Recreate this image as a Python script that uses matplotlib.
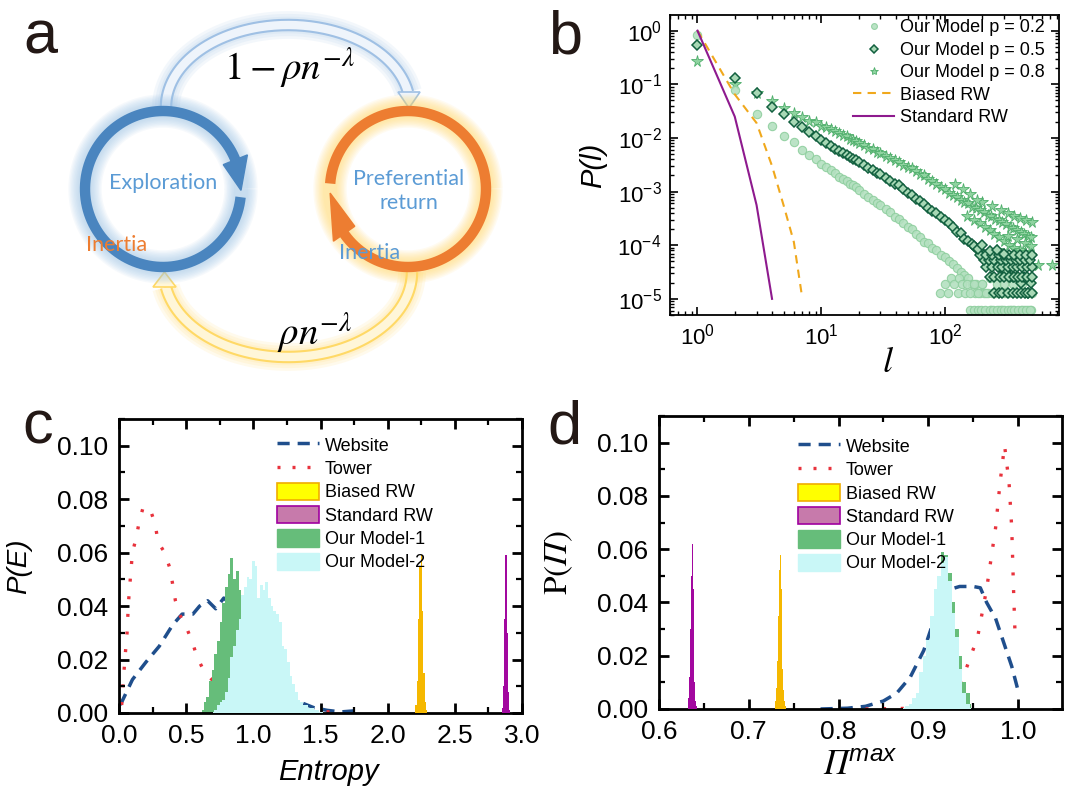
import numpy as np
import matplotlib
matplotlib.use('Agg')
import matplotlib.pyplot as plt
from matplotlib.patches import Polygon, Patch
from matplotlib.lines import Line2D
from matplotlib.ticker import MultipleLocator, FormatStrFormatter

plt.rcParams['font.family'] = ['Liberation Sans', 'DejaVu Sans']
plt.rcParams['mathtext.fontset'] = 'stix'
# custom math set, only used for the Pi labels of panel d (italic serif Pi)
plt.rcParams['mathtext.rm'] = 'STIXGeneral:italic'
plt.rcParams['mathtext.it'] = 'STIXGeneral:italic'
plt.rcParams['mathtext.bf'] = 'STIXGeneral'
plt.rcParams['mathtext.sf'] = 'Liberation Sans:italic'

# ---------------- panel b: step length distribution ----------------
l_grid = [1, 2, 3, 4, 5, 6, 7, 8, 9, 10, 11, 12, 13, 14, 15, 16, 17, 18, 19, 20,
          22, 24, 26, 28, 30, 33, 36, 39, 42, 46, 50, 54, 58, 63, 68, 73, 79, 85,
          92, 99, 107, 115, 124, 133, 143, 154, 166, 178, 191, 205, 220, 236, 253,
          271, 290, 310, 332, 355, 380, 406, 434, 464, 496]
p02 = [0.84, 0.08, 0.028, 0.017, 0.011, 0.0085, 0.0059, 0.0049, 0.0041, 0.0033,
       0.0029, 0.0025, 0.0022, 0.0019, 0.0017, 0.0016, 0.0014, 0.0013, 0.0012, 0.00108,
       0.00092, 0.0008, 0.0007, 0.00061, 0.00056, 0.00047, 0.00041, 0.00034, 0.00031,
       0.00026, 0.00022, 0.0002, 0.000165, 0.000145, 0.000115, 0.000108, 8.8e-05,
       8.2e-05, 6.6e-05, 6e-05, 5e-05, 4.4e-05, 3.8e-05, 3.1e-05, 2.8e-05, 2.5e-05,
       1.9e-05, 1.9e-05, 1.26e-05, 1.26e-05, 1.26e-05, 6.3e-06, 1.26e-05, 6.3e-06,
       6.3e-06, 1.26e-05, 6.3e-06, 6.3e-06, 1.26e-05, 6.3e-06, 6.3e-06, 6.3e-06, 6.3e-06]
p05 = [0.54, 0.133, 0.068, 0.038, 0.028, 0.02, 0.016, 0.013, 0.0107, 0.0091,
       0.008, 0.0071, 0.0063, 0.0057, 0.0052, 0.0048, 0.0045, 0.0041, 0.0038, 0.0035,
       0.0031, 0.0028, 0.0025, 0.0022, 0.0021, 0.0018, 0.0016, 0.0014, 0.0013, 0.0011,
       0.00095, 0.00086, 0.00074, 0.00066, 0.00058, 0.0005, 0.00044, 0.0004, 0.00033,
       0.00029, 0.00026, 0.00022, 0.00018, 0.00017, 0.00013, 0.00012, 0.000105,
       8.8e-05, 7.8e-05, 6.6e-05, 5.8e-05, 5.2e-05, 4.5e-05, 3.9e-05, 3.9e-05,
       3.3e-05, 2.6e-05, 2.6e-05, 2.6e-05, 2e-05, 2.6e-05, 1.3e-05, 2e-05]
p08 = [0.27, 0.1, 0.068, 0.049, 0.036, 0.029, 0.025, 0.021, 0.02, 0.017,
       0.016, 0.0145, 0.0135, 0.0125, 0.0115, 0.011, 0.0095, 0.0092, 0.0086, 0.0082,
       0.0073, 0.0066, 0.0062, 0.0055, 0.0052, 0.0047, 0.0042, 0.0039, 0.0036, 0.0031,
       0.0029, 0.0027, 0.0024, 0.0021, 0.002, 0.0017, 0.0016, 0.0014, 0.0012, 0.0011,
       0.00095, 0.00088, 0.0008, 0.0007, 0.00065, 0.0006, 0.00052, 0.0005, 0.00045,
       0.00042, 0.00036, 0.00035, 0.00031, 0.0003, 0.00027, 0.00025, 0.00022, 0.00021,
       0.00019, 0.00018, 0.00016, 0.00015, 0.00014]

# noisy tails (few counts per bin)
tail02_l = [90, 100, 105, 112, 118, 126, 130, 138, 145, 150, 160, 170, 175, 185, 195,
            200, 210, 230, 245, 260, 280, 300, 320, 340, 360, 390, 420, 450, 480,
            160, 185, 215, 240, 265, 300, 330, 370, 400, 440, 480,
            170, 200, 230, 260, 300, 350, 420, 500]
tail02_p = [1.26e-05, 1.9e-05, 1.26e-05, 2.5e-05, 1.9e-05, 1.26e-05, 2.5e-05, 1.9e-05,
            1.26e-05, 1.9e-05, 6.3e-06, 6.3e-06, 1.26e-05, 6.3e-06, 6.3e-06, 1.9e-05,
            6.3e-06, 6.3e-06, 6.3e-06, 6.3e-06, 6.3e-06, 6.3e-06, 6.3e-06, 6.3e-06,
            6.3e-06, 6.3e-06, 6.3e-06, 6.3e-06, 6.3e-06,
            1.26e-05, 1.26e-05, 1.26e-05, 1.26e-05, 1.26e-05, 1.26e-05, 1.26e-05,
            1.26e-05, 1.26e-05, 1.26e-05, 1.26e-05,
            1.9e-05, 1.9e-05, 2.5e-05, 1.9e-05, 1.9e-05, 1.9e-05, 1.9e-05, 1.26e-05]
tail05_l = [250, 270, 290, 320, 350, 380, 410, 440, 470, 500,
            230, 250, 275, 300, 330, 360, 390, 420, 460, 500,
            215, 240, 265, 290, 320, 350, 380, 420, 460, 500,
            205, 225, 250, 280, 310, 340, 370, 400, 440, 480,
            190, 215, 240, 270, 300, 330, 360, 400, 450, 500,
            170, 185, 200, 230, 260, 300]
tail05_p = [1.3e-05] * 10 + [2.6e-05] * 10 + [3.9e-05] * 10 + [5.2e-05] * 10 + \
           [6.5e-05] * 10 + [9.5e-05, 8.5e-05, 1e-04, 7.8e-05, 8e-05, 7e-05]
tail08_l = [150, 170, 190, 210, 230, 250, 270, 300, 330, 360, 400, 440, 480,
            200, 240, 280, 320, 360, 400, 450, 500,
            260, 300, 340, 380, 420, 460, 500,
            320, 380, 440, 490, 560, 730, 120, 140, 160, 180]
tail08_p = [0.00035, 0.0003, 0.00026, 0.00022, 0.00019, 0.00016, 0.00014, 0.00012,
            0.0001, 9e-05, 8e-05, 7.5e-05, 6.5e-05,
            0.00065, 0.00055, 0.00045, 0.0004, 0.00035, 0.00032, 0.0003, 0.00027,
            8e-05, 7e-05, 6e-05, 5.5e-05, 5e-05, 4.5e-05, 4.2e-05,
            0.00015, 0.00013, 0.00011, 9.5e-05, 4.2e-05, 4.2e-05,
            0.0014, 0.0011, 0.0009, 0.0007]

biased_l = [1, 2, 3, 4, 5, 6, 7]
biased_p = [1.0, 0.065, 0.019, 0.003, 0.00052, 0.000115, 1.07e-05]
standard_l = [1, 2, 3, 4]
standard_p = [1.0, 0.025, 0.00056, 1.0e-05]

# ---------------- panel c: entropy ----------------
web_E_x = [0.01, 0.1, 0.2, 0.3, 0.4, 0.47, 0.55, 0.6, 0.66, 0.72, 0.78, 0.85, 0.95,
           1.05, 1.15, 1.25, 1.35, 1.45, 1.55, 1.65, 1.75, 1.81]
web_E_y = [0.003, 0.0125, 0.019, 0.025, 0.033, 0.037, 0.037, 0.04, 0.042, 0.039,
           0.043, 0.04, 0.03, 0.02, 0.012, 0.006, 0.004, 0.002, 0.001, 0.0004,
           0.0008, 0.0008]
tow_E_x = [0.02, 0.03, 0.05, 0.06, 0.07, 0.09, 0.1, 0.13, 0.15, 0.18, 0.23, 0.27, 0.29,
           0.34, 0.38, 0.4, 0.42, 0.45, 0.51, 0.55, 0.58, 0.63, 0.7, 0.8, 1.0, 1.2,
           1.4, 1.5, 1.6, 1.65]
tow_E_y = [0.003, 0.011, 0.024, 0.03, 0.041, 0.054, 0.06, 0.066, 0.0715, 0.077, 0.0765,
           0.0706, 0.064, 0.06, 0.054, 0.048, 0.042, 0.037, 0.031, 0.026, 0.021, 0.016,
           0.012, 0.008, 0.004, 0.002, 0.001, 0.0005, 0.0004, 0.0002]
m1_E_x = [0.62, 0.64, 0.66, 0.68, 0.7, 0.72, 0.74, 0.76, 0.78, 0.8, 0.82, 0.84, 0.86,
          0.88, 0.9, 0.92, 0.94, 0.96, 0.98, 1.0, 1.02]
m1_E_y = [0.001, 0.004, 0.006, 0.012, 0.016, 0.022, 0.027, 0.034, 0.041, 0.047, 0.052,
          0.058, 0.05, 0.053, 0.046, 0.037, 0.03, 0.022, 0.012, 0.006, 0.002]
m2_E_x = [0.7, 0.72, 0.74, 0.76, 0.78, 0.8, 0.82, 0.84, 0.86, 0.88, 0.9, 0.92, 0.94,
          0.96, 0.98, 1.0, 1.02, 1.04, 1.06, 1.08, 1.1, 1.12, 1.14, 1.16, 1.18, 1.2,
          1.22, 1.24, 1.26, 1.28, 1.3, 1.32, 1.34, 1.36, 1.38, 1.4, 1.42, 1.44, 1.46,
          1.48, 1.5, 1.52]
m2_E_y = [0.0005, 0.001, 0.003, 0.004, 0.005, 0.008, 0.013, 0.021, 0.025, 0.031, 0.035,
          0.044, 0.047, 0.051, 0.05, 0.057, 0.055, 0.043, 0.048, 0.046, 0.049, 0.043,
          0.04, 0.038, 0.037, 0.034, 0.025, 0.024, 0.019, 0.014, 0.011, 0.008, 0.005,
          0.004, 0.003, 0.003, 0.002, 0.002, 0.001, 0.001, 0.0005, 0.0005]
brw_E_x = [2.2, 2.21, 2.22, 2.23, 2.24, 2.25, 2.26, 2.27, 2.28, 2.29]
brw_E_y = [0.001, 0.003, 0.012, 0.035, 0.055, 0.059, 0.038, 0.015, 0.004, 0.001]
srw_E_x = [2.85, 2.86, 2.87, 2.88, 2.89, 2.9, 2.91]
srw_E_y = [0.002, 0.01, 0.035, 0.059, 0.03, 0.008, 0.001]

# ---------------- panel d: predictability ----------------
web_P_x = [0.78, 0.81, 0.83, 0.85, 0.865, 0.88, 0.895, 0.905, 0.915, 0.925, 0.935,
           0.95, 0.958, 0.965, 0.975, 0.985, 0.993, 1.0]
web_P_y = [0.0, 0.0003, 0.001, 0.003, 0.006, 0.012, 0.022, 0.032, 0.04, 0.045, 0.046,
           0.046, 0.0455, 0.04, 0.034, 0.024, 0.016, 0.007]
tow_P_x = [0.83, 0.87, 0.9, 0.925, 0.94, 0.955, 0.965, 0.975, 0.98, 0.985, 0.99,
           0.993, 0.995, 0.997]
tow_P_y = [0.0, 0.0002, 0.0005, 0.003, 0.013, 0.027, 0.045, 0.068, 0.085, 0.099,
           0.085, 0.068, 0.045, 0.025]
m1_P_x = [0.88, 0.884, 0.888, 0.892, 0.896, 0.9, 0.904, 0.908, 0.912, 0.916, 0.92,
          0.924, 0.928, 0.932, 0.936, 0.94, 0.944, 0.948]
m1_P_y = [0.001, 0.003, 0.006, 0.012, 0.018, 0.025, 0.032, 0.04, 0.047, 0.059, 0.058,
          0.051, 0.04, 0.03, 0.02, 0.01, 0.006, 0.002]
m2_P_x = [0.872, 0.876, 0.88, 0.884, 0.888, 0.892, 0.896, 0.9, 0.904, 0.908, 0.912,
          0.916, 0.92, 0.924, 0.928, 0.932, 0.936, 0.94, 0.944, 0.948]
m2_P_y = [0.0005, 0.001, 0.002, 0.004, 0.006, 0.014, 0.02, 0.026, 0.035, 0.045, 0.05,
          0.055, 0.057, 0.048, 0.036, 0.027, 0.015, 0.006, 0.002, 0.0005]
brw_P_x = [0.729, 0.73, 0.731, 0.732, 0.733, 0.734, 0.735, 0.736, 0.737, 0.738, 0.739,
           0.74, 0.741, 0.742]
brw_P_y = [0.001, 0.003, 0.008, 0.018, 0.035, 0.052, 0.058, 0.045, 0.03, 0.015, 0.007,
           0.003, 0.001, 0.0005]
srw_P_x = [0.632, 0.633, 0.634, 0.635, 0.636, 0.637, 0.638, 0.639, 0.64, 0.641, 0.642]
srw_P_y = [0.001, 0.004, 0.012, 0.03, 0.05, 0.062, 0.045, 0.025, 0.01, 0.003, 0.001]

hist_labels = ['Website', 'Tower', 'Biased RW', 'Standard RW', 'Our Model-1', 'Our Model-2']
b_labels = ['Our Model p = 0.2', 'Our Model p = 0.5', 'Our Model p = 0.8',
            'Biased RW', 'Standard RW']

C_WEB = '#1f4e8c'
C_TOW = '#e8323c'
C_M1 = '#66bd7a'
C_M2 = '#c9f7f7'
C_BRW = '#f5b800'
C_SRW = '#a2089f'

W, H = 1080, 791


def px_box(left, top, right, bottom):
    return [left / W, 1 - bottom / H, (right - left) / W, (bottom - top) / H]


fig = plt.figure(figsize=(W / 100, H / 100), dpi=100)

# ================= panel a: diagram =================
ax_a = fig.add_axes(px_box(0, 0, 540, 395))
ax_a.set_xlim(0, 540)
ax_a.set_ylim(395, 0)
ax_a.axis('off')


def arc(cx, cy, r, t0, t1, n=240):
    t = np.radians(np.linspace(t0, t1, n))
    return cx + r * np.cos(t), cy - r * np.sin(t)


def arrow_head(cx, cy, r, t_base, t_tip, half):
    tb, tt = np.radians(t_base), np.radians(t_tip)
    pts = [(cx + (r - half) * np.cos(tb), cy - (r - half) * np.sin(tb)),
           (cx + (r + half) * np.cos(tb), cy - (r + half) * np.sin(tb)),
           (cx + r * np.cos(tt), cy - r * np.sin(tt))]
    return pts


def glow_ring(cx, cy, r, t0, t1, t_tip, color, glow):
    x, y = arc(cx, cy, r, t0, t1)
    xg, yg = arc(cx, cy, r, 0, 360)
    # soft halo: many thin transparent layers
    for lw in np.linspace(24, 10, 8):
        ax_a.plot(xg, yg, color=glow, lw=lw, alpha=0.09, solid_capstyle='butt', zorder=2)
    ax_a.plot(x, y, color=color, lw=7.5, solid_capstyle='butt', zorder=3)
    head = arrow_head(cx, cy, r, t1, t_tip, 13)
    ax_a.add_patch(Polygon(head, closed=True, fc=color, ec=color, lw=1, zorder=3))


def hollow_arrow(x, y, head, outline, inner, glow):
    for lw in [20, 16, 12]:
        ax_a.plot(x, y, color=glow, lw=lw, alpha=0.12, solid_capstyle='butt', zorder=1)
    ax_a.plot(x, y, color=outline, lw=9, solid_capstyle='butt', zorder=1)
    ax_a.plot(x, y, color=inner, lw=6, solid_capstyle='butt', zorder=1)
    ax_a.add_patch(Polygon(head, closed=True, fc=inner, ec=outline, lw=1.2, zorder=1))


s = np.linspace(0, np.pi - 0.18, 200)
# top arrow: exploration -> preferential return
hollow_arrow(288 - 122 * np.cos(s), 107 - 82 * np.sin(s),
             [(398, 92), (420, 92), (409, 108)], '#9fc0e4', '#eef4fb', '#9dc3e6')
# bottom arrow: preferential return -> exploration
hollow_arrow(288 + 124 * np.cos(s), 272 + 85 * np.sin(s),
             [(153, 287), (176, 287), (164.5, 272)], '#ffd966', '#fff6d8', '#ffd966')

glow_ring(163, 189, 78, -6, -338, -361, '#4a85bf', '#9dc3e6')
glow_ring(408, 189, 78, 176, -145, -177, '#ed7d31', '#ffd966')

ax_a.text(290, 68, r'$1-\rho n^{-\lambda}$', fontsize=28, ha='center', va='center', zorder=5)
ax_a.text(315, 333, r'$\rho n^{-\lambda}$', fontsize=28, ha='center', va='center', zorder=5)
ax_a.text(163, 183, 'Exploration', fontsize=15.5, family='Lato', color='#5b9bd5',
          ha='center', va='center', zorder=5)
ax_a.text(409, 191, 'Preferential\nreturn', fontsize=15.5, family='Lato', color='#5b9bd5',
          ha='center', va='center', linespacing=1.25, zorder=5)
ax_a.text(117, 245, 'Inertia', fontsize=15.5, family='Lato', color='#ed7d31',
          ha='center', va='center', zorder=5)
ax_a.text(370, 253, 'Inertia', fontsize=15.5, family='Lato', color='#5b9bd5',
          ha='center', va='center', zorder=5)

# ================= panel b =================
ax_b = fig.add_axes(px_box(670, 15, 1059, 315))
ax_b.set_xscale('log')
ax_b.set_yscale('log')

sty02 = dict(ls='none', marker='o', ms=6, mfc='#b4e0c0', mec='#8fcf9f', mew=0.8, alpha=0.9)
sty05 = dict(ls='none', marker='D', ms=5, mfc='#a8d8b5', mec='#12603f', mew=1.1)
sty08 = dict(ls='none', marker='*', ms=8.5, mfc='#8fd3a0', mec='#4fae6b', mew=0.6)

ax_b.plot(l_grid, p08, **sty08)
ax_b.plot(tail08_l, tail08_p, **sty08)
ax_b.plot(l_grid, p02, **sty02)
ax_b.plot(tail02_l, tail02_p, **sty02)
ax_b.plot(l_grid, p05, **sty05)
ax_b.plot(tail05_l, tail05_p, **sty05)
ax_b.plot(biased_l, biased_p, color='#f0a81c', lw=1.5, ls=(0, (4, 3)))
ax_b.plot(standard_l, standard_p, color='#8e1a8e', lw=1.5)

ax_b.set_xlim(0.6, 830)
ax_b.set_ylim(5e-6, 1.96)
ax_b.tick_params(which='both', direction='in', top=True, right=True, labelsize=16)
ax_b.tick_params(which='major', length=6, width=1.2, pad=6)
ax_b.tick_params(which='minor', length=3, width=1.0)
for sp in ax_b.spines.values():
    sp.set_linewidth(1.3)
ax_b.set_ylabel('P(l)', fontsize=21, style='italic')
ax_b.yaxis.set_label_coords(-0.162, 0.5)
ax_b.set_xlabel(r'$l$', fontsize=26)
ax_b.xaxis.set_label_coords(0.56, -0.1)

# legend markers are drawn smaller than the data markers
b_handles = [Line2D([], [], **dict(sty02, ms=4.2)), Line2D([], [], **dict(sty05, ms=3.6)),
             Line2D([], [], **dict(sty08, ms=6)),
             Line2D([], [], color='#f0a81c', lw=1.5, ls=(0, (4, 3))),
             Line2D([], [], color='#8e1a8e', lw=1.5)]
ax_b.legend(b_handles, b_labels, loc='upper left', bbox_to_anchor=(0.47, 0.985),
            frameon=False, fontsize=13, handlelength=2.3, handletextpad=0.3,
            labelspacing=0.3, borderpad=0, borderaxespad=0)


# ================= panels c and d =================
def hist_panel(ax, web, tow, m1, m2, brw, srw):
    ax.plot(web[0], web[1], color=C_WEB, lw=2.5, ls=(0, (3.5, 2.3)), zorder=1)
    ax.plot(tow[0], tow[1], color=C_TOW, lw=2.4, ls=(0, (0.9, 4.4)), zorder=1)
    ax.fill_between(m1[0], m1[1], step='mid', color=C_M1, lw=0, zorder=2)
    ax.fill_between(m2[0], m2[1], step='mid', color=C_M2, lw=0, zorder=3)
    ax.fill_between(brw[0], brw[1], step='mid', color=C_BRW, lw=0, zorder=3)
    ax.fill_between(srw[0], srw[1], step='mid', color=C_SRW, lw=0, zorder=3)
    ax.set_ylim(0, 0.11)
    ax.yaxis.set_major_locator(MultipleLocator(0.02))
    ax.yaxis.set_minor_locator(MultipleLocator(0.01))
    ax.yaxis.set_major_formatter(FormatStrFormatter('%.2f'))
    ax.tick_params(which='both', direction='in', top=True, right=True, labelsize=19)
    ax.tick_params(which='major', length=7, width=2, pad=8)
    ax.tick_params(which='minor', length=4, width=1.6)
    for sp in ax.spines.values():
        sp.set_linewidth(2)


def hist_legend(ax, anchor):
    handles = [Line2D([], [], color=C_WEB, lw=2.5, ls=(0, (3.5, 2.3))),
               Line2D([], [], color=C_TOW, lw=2.4, ls=(0, (0.9, 3.6))),
               Patch(fc='#ffff00', ec='#f0ad00', lw=1.2),
               Patch(fc='#c77aab', ec='#a0009f', lw=1.2),
               Patch(fc=C_M1, ec=C_M1),
               Patch(fc=C_M2, ec=C_M2)]
    ax.legend(handles, hist_labels, loc='upper left', bbox_to_anchor=anchor,
              frameon=False, fontsize=13, handlelength=2.3, handleheight=1.1,
              handletextpad=0.35, labelspacing=0.25, borderpad=0, borderaxespad=0)


ax_c = fig.add_axes(px_box(119, 419, 522, 713))
hist_panel(ax_c, (web_E_x, web_E_y), (tow_E_x, tow_E_y), (m1_E_x, m1_E_y),
           (m2_E_x, m2_E_y), (brw_E_x, brw_E_y), (srw_E_x, srw_E_y))
ax_c.set_xlim(0, 3.0)
ax_c.xaxis.set_major_locator(MultipleLocator(0.5))
ax_c.xaxis.set_minor_locator(MultipleLocator(0.25))
ax_c.xaxis.set_major_formatter(FormatStrFormatter('%.1f'))
ax_c.set_ylabel('P(E)', fontsize=20, style='italic')
ax_c.yaxis.set_label_coords(-0.216, 0.5)
ax_c.set_xlabel('Entropy', fontsize=21, style='italic')
ax_c.xaxis.set_label_coords(0.52, -0.153)
hist_legend(ax_c, (0.392, 0.942))

ax_d = fig.add_axes(px_box(659, 416, 1062, 709))
hist_panel(ax_d, (web_P_x, web_P_y), (tow_P_x, tow_P_y), (m1_P_x, m1_P_y),
           (m2_P_x, m2_P_y), (brw_P_x, brw_P_y), (srw_P_x, srw_P_y))
ax_d.set_xlim(0.6, 1.049)
ax_d.xaxis.set_major_locator(MultipleLocator(0.1))
ax_d.xaxis.set_minor_locator(MultipleLocator(0.05))
ax_d.xaxis.set_major_formatter(FormatStrFormatter('%.1f'))
ax_d.set_ylabel(r'$\mathbf{P(}\mathrm{\Pi}\mathbf{)}$', fontsize=24, math_fontfamily='custom')
ax_d.yaxis.set_label_coords(-0.208, 0.5)
ax_d.set_xlabel(r'$\mathrm{\Pi}^{\mathsf{max}}$', fontsize=25, math_fontfamily='custom')
ax_d.xaxis.set_label_coords(0.5, -0.135)
hist_legend(ax_d, (0.345, 0.928))

# panel letters
for ch, x, y in [('a', 23, 53), ('b', 548, 53), ('c', 22, 443), ('d', 547, 443)]:
    fig.text(x / W, 1 - y / H, ch, fontsize=44, color='#231815', va='baseline', ha='left')

fig.savefig('out.png', dpi=100)
